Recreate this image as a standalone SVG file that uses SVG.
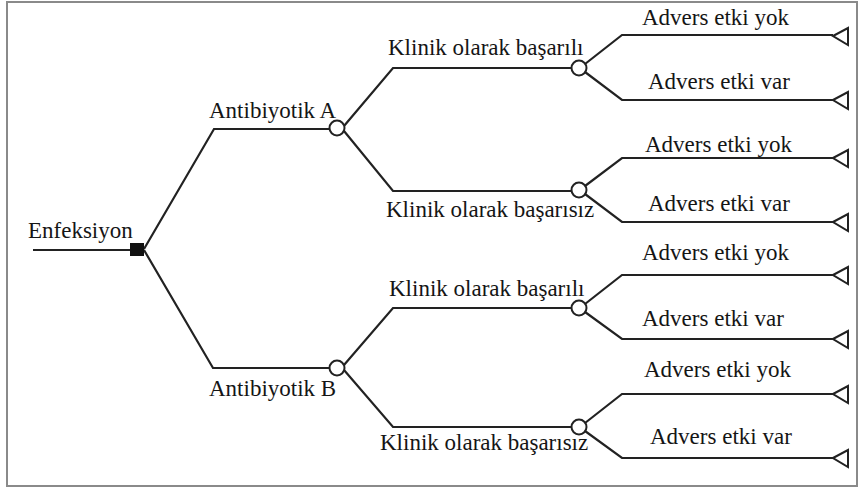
<svg xmlns="http://www.w3.org/2000/svg" width="865" height="488" viewBox="0 0 865 488">
  <style>
    .frame { fill: #ffffff; stroke: #8a8a8a; stroke-width: 2; }
    .edge { fill: none; stroke: #222222; stroke-width: 2.2; stroke-linejoin: miter; }
    .chance { fill: #ffffff; stroke: #222222; stroke-width: 2; }
    .decision { fill: #111111; }
    .terminal { fill: #ffffff; stroke: #222222; stroke-width: 2; stroke-linejoin: miter; }
    text { font-family: 'Liberation Serif', 'Times New Roman', Times, serif; font-size: 23px; fill: #151515; }
  </style>

  <rect class="frame" x="7" y="2" width="850" height="484"/>

  <!-- branches -->
  <g id="connectors">
    <path class="edge" d="M33 250 H131"/>
    <path class="edge" d="M144 249 L214 129 H330"/>
    <path class="edge" d="M144 250 L213 368 H330"/>
    <!-- Antibiyotik A -->
    <path class="edge" d="M344 126 L393 68 H572"/>
    <path class="edge" d="M344 131 L393 191 H572"/>
    <!-- Antibiyotik B -->
    <path class="edge" d="M344 365 L393 308 H572"/>
    <path class="edge" d="M344 370 L393 427 H572"/>
    <!-- outcomes -->
    <path class="edge" d="M585 64 L622 35 H833"/>
    <path class="edge" d="M585 72 L622 100 H833"/>
    <path class="edge" d="M585 186 L622 158 H833"/>
    <path class="edge" d="M585 194 L622 222 H833"/>
    <path class="edge" d="M585 304 L622 275 H833"/>
    <path class="edge" d="M585 312 L622 339 H833"/>
    <path class="edge" d="M585 423 L622 394 H833"/>
    <path class="edge" d="M585 431 L622 458 H833"/>
  </g>

  <g id="enfeksiyon">
    <rect class="decision" x="130" y="243" width="14" height="13"/>
    <text x="28" y="238">Enfeksiyon</text>
  </g>

  <g id="antibiyotik-a">
    <circle class="chance" cx="337" cy="128" r="7.5"/>
    <text x="209" y="118">Antibiyotik A</text>
  </g>
  <g id="antibiyotik-b">
    <circle class="chance" cx="337" cy="368" r="7.5"/>
    <text x="209" y="396">Antibiyotik B</text>
  </g>

  <g id="a-basarili">
    <circle class="chance" cx="579" cy="68" r="7.5"/>
    <text x="388" y="55">Klinik olarak başarılı</text>
  </g>
  <g id="a-basarisiz">
    <circle class="chance" cx="579" cy="190" r="7.5"/>
    <text x="386" y="217">Klinik olarak başarısız</text>
  </g>
  <g id="b-basarili">
    <circle class="chance" cx="579" cy="308" r="7.5"/>
    <text x="389" y="296">Klinik olarak başarılı</text>
  </g>
  <g id="b-basarisiz">
    <circle class="chance" cx="579" cy="427" r="7.5"/>
    <text x="380" y="450">Klinik olarak başarısız</text>
  </g>

  <g id="a-basarili-yok">
    <path class="terminal" d="M833 36 L848 28 V45 Z"/>
    <text x="642" y="25">Advers etki yok</text>
  </g>
  <g id="a-basarili-var">
    <path class="terminal" d="M833 100 L848 92 V109 Z"/>
    <text x="648" y="89">Advers etki var</text>
  </g>
  <g id="a-basarisiz-yok">
    <path class="terminal" d="M833 158 L848 150 V167 Z"/>
    <text x="645" y="152">Advers etki yok</text>
  </g>
  <g id="a-basarisiz-var">
    <path class="terminal" d="M833 222 L848 214 V231 Z"/>
    <text x="648" y="211">Advers etki var</text>
  </g>
  <g id="b-basarili-yok">
    <path class="terminal" d="M833 275 L848 267 V284 Z"/>
    <text x="642" y="260">Advers etki yok</text>
  </g>
  <g id="b-basarili-var">
    <path class="terminal" d="M833 339 L848 331 V348 Z"/>
    <text x="642" y="326">Advers etki var</text>
  </g>
  <g id="b-basarisiz-yok">
    <path class="terminal" d="M833 394 L848 386 V403 Z"/>
    <text x="644" y="377">Advers etki yok</text>
  </g>
  <g id="b-basarisiz-var">
    <path class="terminal" d="M833 458 L848 450 V467 Z"/>
    <text x="650" y="444">Advers etki var</text>
  </g>
</svg>
